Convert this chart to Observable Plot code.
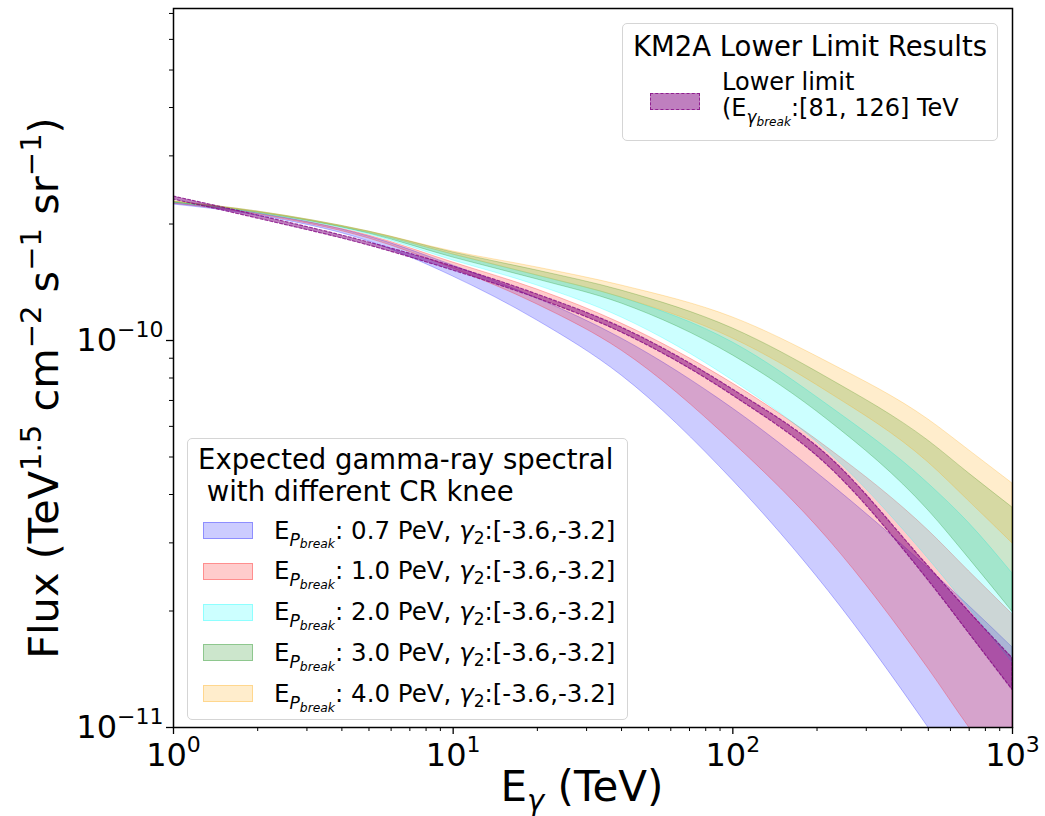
<!DOCTYPE html>
<html>
<head>
<meta charset="utf-8">
<script src="https://cdn.jsdelivr.net/npm/d3@7"></script>
<script src="https://cdn.jsdelivr.net/npm/@observablehq/plot@0.6"></script>
<style>
  html, body { margin: 0; padding: 0; background: #fff; }
  #wrap { position: relative; width: 1045px; height: 816px; font-family: "DejaVu Sans", sans-serif; color: #000; }
  .leg { position: absolute; background: rgba(255,255,255,0.8); border: 1px solid #d5d5d5; border-radius: 5px; box-sizing: border-box; }
  .t { position: absolute; white-space: pre; line-height: normal; }
  .patch { position: absolute; box-sizing: border-box; }
  .s1 { font-size: 0.7em; position: relative; top: 0.42em; font-style: italic; }
  .s2 { font-size: 0.72em; position: relative; top: 0.22em; font-style: italic; }
  .sub { font-size: 0.7em; position: relative; top: 0.3em; }
  .it { font-style: italic; }
</style>
</head>
<body>
<div id="wrap"></div>
<script>
// Gamma-ray energy (TeV)
const energy = [1, 2, 5, 10, 20, 40, 100, 220, 500, 700, 1000];

// Flux values in units of 1e-10 TeV^1.5 cm^-2 s^-1 sr^-1 (upper: gamma2=-3.2, lower: gamma2=-3.6)
const blueUpper   = [2.259, 2.129, 1.856, 1.562, 1.284, 1.012, 0.667, 0.430, 0.258, 0.206, 0.161];
const blueLower   = [2.246, 2.104, 1.803, 1.463, 1.126, 0.812, 0.435, 0.225, 0.100, 0.070, 0.048];
const redUpper    = [2.273, 2.129, 1.867, 1.590, 1.354, 1.106, 0.774, 0.526, 0.323, 0.253, 0.196];
const redLower    = [2.259, 2.116, 1.835, 1.535, 1.239, 0.942, 0.545, 0.306, 0.142, 0.100, 0.071];
const cyanUpper   = [2.273, 2.141, 1.901, 1.668, 1.472, 1.291, 0.988, 0.679, 0.427, 0.337, 0.250];
const cyanLower   = [2.273, 2.129, 1.879, 1.610, 1.387, 1.147, 0.788, 0.514, 0.273, 0.203, 0.147];
const greenUpper  = [2.287, 2.154, 1.912, 1.688, 1.516, 1.346, 1.074, 0.798, 0.551, 0.453, 0.370];
const greenLower  = [2.273, 2.141, 1.890, 1.638, 1.438, 1.246, 0.915, 0.621, 0.364, 0.273, 0.199];
const orangeUpper = [2.287, 2.154, 1.912, 1.698, 1.544, 1.387, 1.147, 0.877, 0.625, 0.520, 0.427];
const orangeLower = [2.287, 2.141, 1.901, 1.668, 1.472, 1.291, 1.012, 0.734, 0.484, 0.384, 0.299];
// KM2A lower limit band
const limitUpper  = [2.356, 2.104, 1.792, 1.553, 1.315, 1.080, 0.747, 0.502, 0.261, 0.199, 0.151];
const limitLower  = [2.314, 2.066, 1.760, 1.516, 1.284, 1.049, 0.721, 0.473, 0.240, 0.175, 0.125];
const UNIT = 1e-10;

// Legend labels
const breakLabels = ["0.7", "1.0", "2.0", "3.0", "4.0"];
const gammaRange = "[-3.6,-3.2]";
const limitRange = "[81, 126]";

// Ticks
const xMajor = [1, 10, 100, 1000];
const xMinor = [2,3,4,5,6,7,8,9,20,30,40,50,60,70,80,90,200,300,400,500,600,700,800,900];
const yMajor = [1e-11, 1e-10];
const yMinor = [2e-11,3e-11,4e-11,5e-11,6e-11,7e-11,8e-11,9e-11,2e-10,3e-10,4e-10,5e-10,6e-10,7e-10];

const colors = ["blue", "red", "cyan", "green", "orange"];
const rgb = ["0,0,255", "255,0,0", "0,255,255", "0,128,0", "255,165,0"];
const uppers = [blueUpper, redUpper, cyanUpper, greenUpper, orangeUpper];
const lowers = [blueLower, redLower, cyanLower, greenLower, orangeLower];

const rows = (hi, lo) => energy.map((E, i) => ({E, hi: hi[i] * UNIT, lo: lo[i] * UNIT}));

const bandMarks = colors.map((c, k) =>
  Plot.areaY(rows(uppers[k], lowers[k]), {
    x: "E", y1: "lo", y2: "hi", fill: c, fillOpacity: 0.2,
    stroke: c, strokeOpacity: 0.25, strokeWidth: 1, curve: "monotone-x", clip: true
  })
);

const expLabel = d => "10^" + Math.round(Math.log10(d));

const chart = Plot.plot({
  width: 1045, height: 816,
  marginLeft: 173, marginRight: 33, marginTop: 8, marginBottom: 89,
  x: {type: "log", domain: [1, 1000]},
  y: {type: "log", domain: [1e-11, 7.21e-10]},
  style: {fontFamily: '"DejaVu Sans", sans-serif', background: "white", color: "black"},
  marks: [
    ...bandMarks,
    Plot.areaY(rows(limitUpper, limitLower), {
      x: "E", y1: "lo", y2: "hi", fill: "purple", fillOpacity: 0.5,
      stroke: "purple", strokeOpacity: 0.75, strokeWidth: 1.2, strokeDasharray: "3,2",
      curve: "monotone-x", clip: true
    }),
    Plot.axisX({ticks: xMinor, tickSize: 4, tickFormat: () => "", strokeWidth: 1, label: null}),
    Plot.axisX({ticks: xMajor, tickSize: 7, tickPadding: 9, tickFormat: expLabel, fontSize: 32, strokeWidth: 1.3, label: null}),
    Plot.axisY({ticks: yMinor, tickSize: 4, tickFormat: () => "", strokeWidth: 1, label: null}),
    Plot.axisY({ticks: yMajor, tickSize: 7, tickPadding: 3, tickFormat: expLabel, fontSize: 32, strokeWidth: 1.3, label: null}),
    Plot.frame({stroke: "black", strokeWidth: 1.5})
  ]
});

const svg = d3.select(chart);
// superscript tick labels
svg.selectAll('g[aria-label="x-axis tick label"] text, g[aria-label="y-axis tick label"] text').each(function() {
  const t = this.textContent;
  if (!t.includes("^")) return;
  const [base, exp] = t.split("^");
  const s = d3.select(this);
  s.selectAll("*").remove();
  s.text(null);
  s.append("tspan").text(base);
  s.append("tspan").attr("font-size", 22).attr("dy", -14).text(exp.replace("-", "\u2212"));
});

// x label
const xl = svg.append("text").attr("x", 582).attr("y", 801).attr("text-anchor", "middle")
  .attr("font-size", 42).attr("fill", "black");
xl.append("tspan").text("E");
xl.append("tspan").attr("font-size", 29).attr("font-style", "italic").attr("dy", 9).text("\u03b3");
xl.append("tspan").attr("dy", -9).text(" (TeV)");

// y label
const yl = svg.append("text").attr("transform", "translate(58,388) rotate(-90)")
  .attr("text-anchor", "middle").attr("font-size", 41.5).attr("fill", "black");
const ylParts = [["Flux (TeV", 0], ["1.5", 1], [" cm", 0], ["\u22122", 1], [" s", 0], ["\u22121", 1], [" sr", 0], ["\u22121", 1], [")", 0]];
let prevSup = 0;
ylParts.forEach(([txt, sup]) => {
  const ts = yl.append("tspan").text(txt);
  if (sup) ts.attr("font-size", 29);
  const dy = (sup ? -17 : 0) - (prevSup ? -17 : 0);
  if (dy) ts.attr("dy", dy);
  prevSup = sup;
});

const wrap = document.getElementById("wrap");
wrap.appendChild(chart);

// Top-right legend
const legTop = document.createElement("div");
legTop.className = "leg";
Object.assign(legTop.style, {left: "622px", top: "23px", width: "376px", height: "118px"});
legTop.innerHTML =
  `<div class="t" style="left:0;width:374px;text-align:center;top:6px;font-size:27.5px">KM2A Lower Limit Results</div>` +
  `<div class="patch" style="left:27px;top:69px;width:50px;height:17px;background:rgba(128,0,128,0.5);border:1.3px dashed rgba(128,0,128,0.75)"></div>` +
  `<div class="t" style="left:99px;top:44px;font-size:24px">Lower limit</div>` +
  `<div class="t" style="left:99px;top:70px;font-size:24px">(E<span class="s1">\u03b3<span class="s2">break</span></span>:${limitRange} TeV</div>`;
wrap.appendChild(legTop);

// Lower-left legend
const legLow = document.createElement("div");
legLow.className = "leg";
Object.assign(legLow.style, {left: "187px", top: "438px", width: "441px", height: "282px"});
let html =
  `<div class="t" style="left:10px;top:4px;font-size:27.5px">Expected gamma-ray spectral</div>` +
  `<div class="t" style="left:10px;top:36px;font-size:27.5px"> with different CR knee</div>`;
breakLabels.forEach((lab, i) => {
  const y = 40.8 * i;
  html += `<div class="patch" style="left:15px;top:${83 + y}px;width:50px;height:17px;background:rgba(${rgb[i]},0.2);border:1px solid rgba(${rgb[i]},0.3)"></div>`;
  html += `<div class="t" style="left:86px;top:${76.5 + y}px;font-size:24.5px">E<span class="s1">P<span class="s2">break</span></span>: ${lab} PeV, <span class="it">\u03b3</span><span class="sub">2</span>:${gammaRange}</div>`;
});
legLow.innerHTML = html;
wrap.appendChild(legLow);
</script>
</body>
</html>
